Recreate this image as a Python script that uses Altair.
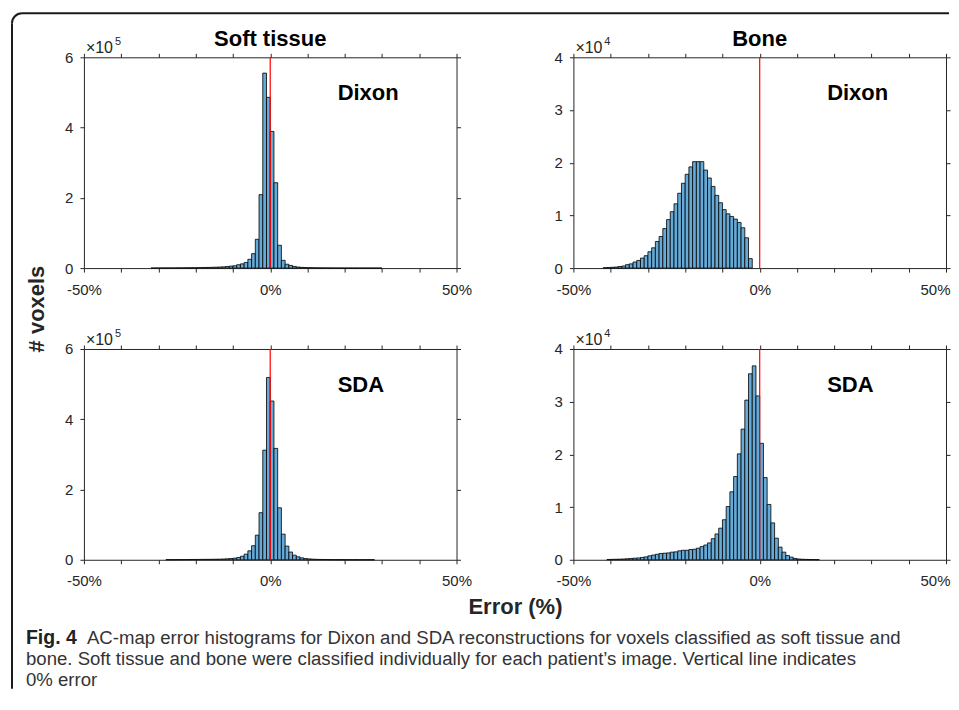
import altair as alt
import pandas as pd

# ---------------- data ----------------
BIN_WIDTH = 1  # histogram bin width, in % error

error_ticks = [-50, -40, -30, -20, -10, 0, 10, 20, 30, 40, 50]
error_labels_at = [-50, 0, 50]
soft_ticks = [0, 2, 4, 6]       # x 10^5 voxels
bone_ticks = [0, 1, 2, 3, 4]    # x 10^4 voxels

# Soft tissue, Dixon  (x10^5 voxels), bins starting at -32 %
soft_dixon_first = -32
soft_dixon = [
    0.0023, 0.0026,
    0.003, 0.0035, 0.004, 0.0045, 0.005, 0.006, 0.007, 0.008, 0.009, 0.010,
    0.012, 0.014, 0.016, 0.019, 0.022, 0.026, 0.030, 0.036, 0.045, 0.057,
    0.066, 0.095, 0.12, 0.16, 0.25, 0.41, 0.82, 2.09, 5.55, 4.86,
    3.89, 2.43, 0.65, 0.22, 0.11, 0.076, 0.047, 0.030, 0.020, 0.015,
    0.011, 0.009, 0.007, 0.006, 0.005, 0.004, 0.0035, 0.003, 0.0025, 0.002,
    0.002, 0.0018, 0.0016, 0.0014, 0.0012, 0.001, 0.001, 0.001, 0.001, 0.001,
]

# Soft tissue, SDA  (x10^5 voxels), bins starting at -28 %
soft_sda_first = -28
soft_sda = [
    0.0035, 0.004, 0.0045, 0.005, 0.006, 0.007, 0.008, 0.009,
    0.010, 0.011, 0.012, 0.013, 0.014, 0.016, 0.018, 0.022, 0.028, 0.035,
    0.045, 0.065, 0.10, 0.16, 0.255, 0.40, 0.70, 1.34, 3.12, 5.19,
    4.52, 3.17, 1.48, 0.73, 0.39, 0.22, 0.13, 0.085, 0.055, 0.035,
    0.025, 0.018, 0.013, 0.010, 0.008, 0.006, 0.005, 0.004, 0.0035, 0.003,
    0.0026, 0.0023, 0.002, 0.0018, 0.0016, 0.0014, 0.0012, 0.001,
]

# Bone, Dixon  (x10^4 voxels), bins starting at -42 %
bone_dixon_first = -42
bone_dixon = [
    0.007, 0.010, 0.015, 0.020, 0.030, 0.040, 0.065,
    0.080, 0.115, 0.145, 0.19, 0.235, 0.31, 0.385, 0.505, 0.60, 0.75,
    0.92, 1.07, 1.22, 1.42, 1.61, 1.78, 1.92, 2.02, 2.02, 2.02,
    1.86, 1.71, 1.55, 1.38, 1.24, 1.11, 1.03, 0.98, 0.93, 0.866,
    0.765, 0.575, 0.18,
]

# Bone, SDA  (x10^4 voxels), bins starting at -41 %
bone_sda_first = -41
bone_sda = [
    0.006, 0.008, 0.010, 0.012, 0.015, 0.020,
    0.025, 0.030, 0.035, 0.045, 0.055, 0.075, 0.090, 0.105, 0.12, 0.125,
    0.13, 0.145, 0.15, 0.17, 0.18, 0.18, 0.195, 0.20, 0.22, 0.25,
    0.28, 0.32, 0.40, 0.49, 0.60, 0.76, 1.01, 1.29, 1.58, 2.01,
    2.48, 3.03, 3.53, 3.68, 3.11, 2.21, 1.56, 1.05, 0.70, 0.41,
    0.24, 0.145, 0.08, 0.05, 0.025, 0.015, 0.010, 0.007, 0.005, 0.004,
    0.003,
]

zero_error = [0]

caption_bold = "Fig. 4"
caption_lines = [
    "AC-map error histograms for Dixon and SDA reconstructions for voxels classified as soft tissue and",
    "bone. Soft tissue and bone were classified individually for each patient\u2019s image. Vertical line indicates",
    "0% error",
]

# ---------------- style ----------------
INK = "#262626"
AX_FONT = "Liberation Sans"
CAP_FONT = "Liberation Sans"
BAR_FILL = "#66AAD7"
BAR_EDGE = "#000000"
PW, PH = 373, 211

label_test = " || ".join(f"datum.value == {v}" for v in error_labels_at)


def x_axis(orient, labels, last_right=False):
    kw = dict(orient=orient, values=error_ticks, tickSize=4, tickWidth=1, tickColor=INK,
              domainColor=INK, domainWidth=1, grid=False, title=None, labels=labels)
    if labels:
        kw.update(labelExpr=f"({label_test}) ? datum.value + '%' : ''", labelFont=AX_FONT,
                  labelFontSize=15, labelColor=INK, labelPadding=10, labelFlush=False,
                  labelOverlap=False, labelAngle=0)
        if last_right:
            kw.update(
                labelAlign={"condition": {"test": "datum.value == 50", "value": "right"},
                            "value": "center"},
                labelOffset={"condition": {"test": "datum.value == 50", "value": 4},
                             "value": 0},
            )
    return alt.Axis(**kw)


def y_axis(orient, labels, ticks):
    kw = dict(orient=orient, values=ticks, tickSize=4, tickWidth=1, tickColor=INK,
              domainColor=INK, domainWidth=1, grid=False, title=None, labels=labels)
    if labels:
        kw.update(format="d", labelFont=AX_FONT, labelFontSize=15, labelColor=INK,
                  labelPadding=7, labelFlush=False, labelOverlap=False)
    return alt.Axis(**kw)


ann = pd.DataFrame({"k": [0]})


def text(txt, x, y, size, weight="normal", align="left", baseline="alphabetic",
         font=AX_FONT, color="black", angle=0):
    return alt.Chart(ann).mark_text(
        text=txt, fontSize=size, fontWeight=weight, align=align, baseline=baseline,
        font=font, color=color, angle=angle
    ).encode(x=alt.value(x), y=alt.value(y))


def panel(first_bin, counts, ymax, yticks, exponent, method, tissue=None, extra=(),
          right_col=False):
    starts = list(range(first_bin, first_bin + len(counts)))
    df = pd.DataFrame({"start": starts,
                       "end": [s + BIN_WIDTH for s in starts],
                       "count": counts})
    xs = alt.Scale(domain=[-50, 50], nice=False, zero=False)
    ys = alt.Scale(domain=[0, ymax], nice=False, zero=True)

    bars = alt.Chart(df).mark_rect(fill=BAR_FILL, stroke=BAR_EDGE, strokeWidth=0.8).encode(
        x=alt.X("start:Q", scale=xs, axis=x_axis("bottom", True, right_col)),
        x2="end:Q",
        y=alt.Y("count:Q", scale=ys, axis=y_axis("left", True, yticks)),
        y2=alt.datum(0),
    )
    frame = alt.Chart(df).mark_rect(opacity=0).encode(
        x=alt.X("start:Q", scale=xs, axis=x_axis("top", False)),
        x2="end:Q",
        y=alt.Y("count:Q", scale=ys, axis=y_axis("right", False, yticks)),
        y2=alt.datum(0),
    )
    zline = alt.Chart(pd.DataFrame({"e": zero_error})).mark_rule(
        color="#FF0000", strokeWidth=1.2
    ).encode(x=alt.X("e:Q", scale=xs, axis=None))

    layers = [bars, frame, zline,
              text(method, 254, 43, 22, weight="bold"),
              text("\u00d710", 2, -4, 16, color=INK),
              text(str(exponent), 31, -12, 11, color=INK)]
    if tissue:
        layers.append(text(tissue, PW / 2, -11, 22, weight="bold", align="center"))
    layers.extend(extra)
    return alt.layer(*layers).resolve_axis(x="independent", y="independent").properties(
        width=PW, height=PH)


# figure frame + shared labels + caption, positioned relative to the first panel
R = 10
decor = [
    alt.Chart(ann).mark_rule(color="#1a1a1a", strokeWidth=2).encode(
        x=alt.value(-72), y=alt.value(-44 + R), y2=alt.value(632)),
    alt.Chart(ann).mark_rule(color="#1a1a1a", strokeWidth=2).encode(
        x=alt.value(-72 + R), x2=alt.value(866), y=alt.value(-44)),
    alt.Chart(ann).mark_arc(color="#1a1a1a").encode(
        x=alt.value(-72 + R), y=alt.value(-44 + R),
        theta=alt.value(4.712389), theta2=alt.value(6.283185),
        radius=alt.value(R + 1), radius2=alt.value(R - 1)),
    text("# voxels", -47, 252, 22, weight="bold", align="center", baseline="middle",
         color=INK, angle=270),
    text("Error (%)", 432, 557, 22, weight="bold", align="center", color=INK),
    text(caption_bold, -58, 587, 19.5, weight="bold", font=CAP_FONT, color="#222222"),
    text(caption_lines[0], 3, 587, 18.6, font=CAP_FONT, color="#333333"),
    text(caption_lines[1], -58, 608, 18.6, font=CAP_FONT, color="#333333"),
    text(caption_lines[2], -58, 629, 18.6, font=CAP_FONT, color="#333333"),
]

p1 = panel(soft_dixon_first, soft_dixon, 6, soft_ticks, 5, "Dixon", "Soft tissue", decor)
p2 = panel(bone_dixon_first, bone_dixon, 4, bone_ticks, 4, "Dixon", "Bone", right_col=True)
p3 = panel(soft_sda_first, soft_sda, 6, soft_ticks, 5, "SDA")
p4 = panel(bone_sda_first, bone_sda, 4, bone_ticks, 4, "SDA", right_col=True)

chart = alt.concat(
    p1, p2, p3, p4, columns=2, spacing={"row": 81, "column": 117}, bounds="flush"
).properties(
    padding={"left": 3, "top": 4, "right": 0, "bottom": 0},
    background="white",
).configure_view(stroke=None)

chart.save("out.html", embed_options={"renderer": "svg", "actions": False})
